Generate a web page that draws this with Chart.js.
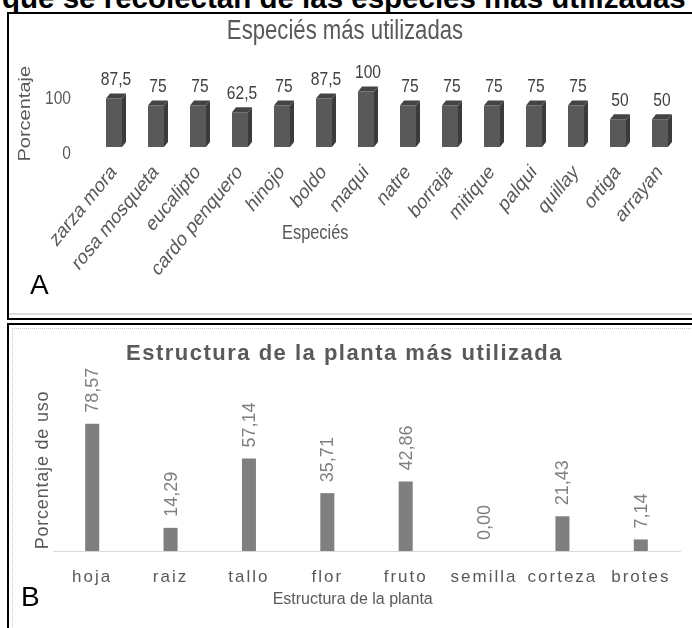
<!DOCTYPE html>
<html>
<head>
<meta charset="utf-8">
<script src="https://cdn.jsdelivr.net/npm/chart.js@4.4.1/dist/chart.umd.min.js"></script>
<style>
  body { margin:0; background:#fff; width:692px; height:628px; overflow:hidden; position:relative; font-family:'Liberation Sans', Arial, sans-serif; }
  #cap { position:absolute; left:2px; top:-17px; font-size:29.5px; line-height:29px; font-weight:bold; color:#000; white-space:nowrap; }
  .panel { position:absolute; left:7px; width:700px; border:2px solid #000; box-sizing:border-box; background:#fff; }
  #panelA { top:12px; height:308px; }
  #panelB { top:323px; height:320px; }
  #lineA { position:absolute; left:9px; top:313px; width:690px; height:0; border-top:2px solid #dcdcdc; }
  #lineB { position:absolute; left:12px; top:328px; width:690px; height:310px; border-top:1px dotted #c8c8c8; border-left:1px dotted #c8c8c8; }
  .wrap { position:absolute; left:9px; width:683px; }
  #wrapA { top:14px; height:298px; }
  #wrapB { top:325px; height:303px; }
  .letter { position:absolute; font-size:28px; line-height:28px; color:#000; }
</style>
</head>
<body>
<div id="cap">que se recolectan de las especies más utilizadas</div>
<div class="panel" id="panelA"></div>
<div class="panel" id="panelB"></div>
<div id="lineA"></div>
<div id="lineB"></div>
<div class="wrap" id="wrapA"><canvas id="chartA"></canvas></div>
<div class="wrap" id="wrapB"><canvas id="chartB"></canvas></div>
<div class="letter" style="left:30px;top:271px">A</div>
<div class="letter" style="left:21px;top:583px">B</div>

<script>
// --- datos panel A
var especies = ['zarza mora','rosa mosqueta','eucalipto','cardo penquero','hinojo','boldo','maqui','natre','borraja','mitique','palqui','quillay','ortiga','arrayan'];
var porcentajeEspecies = [87.5,75,75,62.5,75,87.5,100,75,75,75,75,75,50,50];
var ticksA = [0,100];

// --- datos panel B
var estructuras = ['hoja','raiz','tallo','flor','fruto','semilla','corteza','brotes'];
var porcentajeUso = [78.57,14.29,57.14,35.71,42.86,0.00,21.43,7.14];

var ARIAL = "'Liberation Sans',Arial,sans-serif";
var SX = 0.82;   // el grafico A esta comprimido en horizontal

function coma(v, dec) {
	return (dec == null ? String(v) : v.toFixed(dec)).replace('.', ',');
}

// texto comprimido en x (en coordenadas de pantalla) para el panel A
function comprimirTexto(ctx, sx) {
	var orig = ctx.fillText;
	ctx.fillText = function(t, x, y, mw) {
		var m = this.getTransform();
		var px = m.a*x + m.c*y + m.e;
		this.save();
		this.setTransform(sx*m.a, m.b, sx*m.c, m.d, sx*m.e + px*(1-sx), m.f);
		if (mw === undefined) orig.call(this, t, x, y);
		else orig.call(this, t, x, y, mw);
		this.restore();
	};
}

// barras con efecto 3D + etiquetas
var bars3d = {
	id: 'bars3d',
	afterDatasetsDraw: function(chart) {
		var ctx = chart.ctx;
		var meta = chart.getDatasetMeta(0);
		var dx = 4, dy = 5;
		ctx.save();
		meta.data.forEach(function(bar, i) {
			var l = bar.x - bar.width/2, r = bar.x + bar.width/2;
			// lado
			ctx.fillStyle = '#3b3b3b';
			ctx.beginPath();
			ctx.moveTo(r, bar.y); ctx.lineTo(r+dx, bar.y-dy);
			ctx.lineTo(r+dx, bar.base-dy); ctx.lineTo(r, bar.base);
			ctx.closePath(); ctx.fill();
			// tapa
			ctx.fillStyle = '#444444';
			ctx.beginPath();
			ctx.moveTo(l, bar.y); ctx.lineTo(r, bar.y);
			ctx.lineTo(r+dx, bar.y-dy); ctx.lineTo(l+dx, bar.y-dy);
			ctx.closePath(); ctx.fill();
			// valor
			ctx.fillStyle = '#404040';
			ctx.font = '19px ' + ARIAL;
			ctx.textAlign = 'center';
			ctx.textBaseline = 'bottom';
			ctx.fillText(coma(porcentajeEspecies[i]), bar.x + dx/2, bar.y - dy - 4);
		});
		// titulo eje x (desplazado como en el original)
		var a = chart.chartArea;
		ctx.fillStyle = '#595959';
		ctx.font = '20px ' + ARIAL;
		ctx.textAlign = 'center';
		ctx.textBaseline = 'middle';
		ctx.fillText('Especiés', a.left + (a.right - a.left) * 0.378, a.bottom + 86);
		ctx.restore();
	}
};

var ctxA = document.getElementById('chartA').getContext('2d');
comprimirTexto(ctxA, SX);

new Chart(ctxA, {
	type: 'bar',
	data: {
		labels: especies,
		datasets: [{
			data: porcentajeEspecies,
			backgroundColor: '#595959',
			barPercentage: 0.381,
			categoryPercentage: 1
		}]
	},
	options: {
		responsive: true,
		maintainAspectRatio: false,
		animation: false,
		devicePixelRatio: 1,
		layout: { padding: { left: 0, right: 11, top: 0, bottom: 0 } },
		plugins: {
			legend: { display: false },
			tooltip: { enabled: false },
			title: {
				display: true,
				text: 'Especiés más utilizadas',
				color: '#595959',
				font: { family: ARIAL, size: 27, weight: 'normal' },
				padding: { top: 1, bottom: 33 }
			}
		},
		scales: {
			x: {
				grid: { display: false, drawTicks: false },
				border: { display: false },
				ticks: {
					autoSkip: false, minRotation: 45, maxRotation: 45,
					color: '#595959', padding: 13,
					font: { family: ARIAL, size: 21 }
				},
				afterFit: function(s) { s.height = 165; }
			},
			y: {
				min: 0, max: 120,
				grid: { display: false, drawTicks: false },
				border: { display: false },
				afterBuildTicks: function(s) { s.ticks = ticksA.map(function(v) { return { value: v }; }); },
				ticks: {
					color: '#595959', padding: 22, labelOffset: 7,
					font: { family: ARIAL, size: 19 }
				},
				title: {
					display: true, text: 'Porcentaje', color: '#595959',
					font: { family: ARIAL, size: 20 },
					padding: { top: 4, bottom: 0 }
				},
				afterFit: function(s) { s.width = 84; }
			}
		}
	},
	plugins: [bars3d]
});

// espaciado de letras del panel B
function conEspacio(obj, fn, sp) {
	var orig = obj[fn];
	obj[fn] = function() {
		var ctx = this.ctx;
		ctx.save();
		ctx.letterSpacing = sp;
		orig.apply(this, arguments);
		ctx.restore();
	};
}

var etiquetasB = {
	id: 'etiquetasB',
	beforeDraw: function(chart) {
		if (chart.$espaciado) return;
		chart.$espaciado = true;
		conEspacio(chart.titleBlock, 'draw', '1.5px');
		conEspacio(chart.scales.x, 'drawLabels', '2px');
		conEspacio(chart.scales.y, 'drawTitle', '0.8px');
	},
	afterDatasetsDraw: function(chart) {
		var ctx = chart.ctx;
		var meta = chart.getDatasetMeta(0);
		var a = chart.chartArea;
		ctx.save();
		ctx.fillStyle = '#7f7f7f';
		ctx.font = '18px ' + ARIAL;
		ctx.textAlign = 'left';
		ctx.textBaseline = 'middle';
		meta.data.forEach(function(bar, i) {
			ctx.save();
			ctx.translate(bar.x + 1, bar.y - 11);
			ctx.rotate(-Math.PI/2);
			ctx.fillText(coma(porcentajeUso[i], 2), 0, 0);
			ctx.restore();
		});
		// titulo eje x
		ctx.fillStyle = '#595959';
		ctx.font = '16px ' + ARIAL;
		ctx.textAlign = 'center';
		ctx.fillText('Estructura de la planta', a.left + (a.right - a.left) * 0.478, a.bottom + 49);
		ctx.restore();
	}
};

new Chart(document.getElementById('chartB'), {
	type: 'bar',
	data: {
		labels: estructuras,
		datasets: [{
			data: porcentajeUso,
			backgroundColor: '#7f7f7f',
			barPercentage: 0.179,
			categoryPercentage: 1
		}]
	},
	options: {
		responsive: true,
		maintainAspectRatio: false,
		animation: false,
		devicePixelRatio: 1,
		layout: { padding: { left: 0, right: 12, top: 0, bottom: 0 } },
		plugins: {
			legend: { display: false },
			tooltip: { enabled: false },
			title: {
				display: true,
				text: 'Estructura de la planta más utilizada',
				color: '#595959',
				font: { family: ARIAL, size: 22, weight: 'bold' },
				padding: { top: 16, bottom: 21.6 }
			}
		},
		scales: {
			x: {
				grid: { display: false, drawTicks: false },
				border: { display: true, color: '#d9d9d9', width: 1 },
				ticks: {
					color: '#595959', padding: 16,
					font: { family: ARIAL, size: 17 }
				},
				afterFit: function(s) { s.height = 77; }
			},
			y: {
				min: 0, max: 100,
				grid: { display: false },
				border: { display: false },
				ticks: { display: false },
				title: {
					display: true, text: 'Porcentaje de uso', color: '#595959',
					font: { family: ARIAL, size: 18 },
					padding: { top: 23, bottom: 0 }
				},
				afterFit: function(s) { s.width = 44; }
			}
		}
	},
	plugins: [etiquetasB]
});
</script>
</body>
</html>
